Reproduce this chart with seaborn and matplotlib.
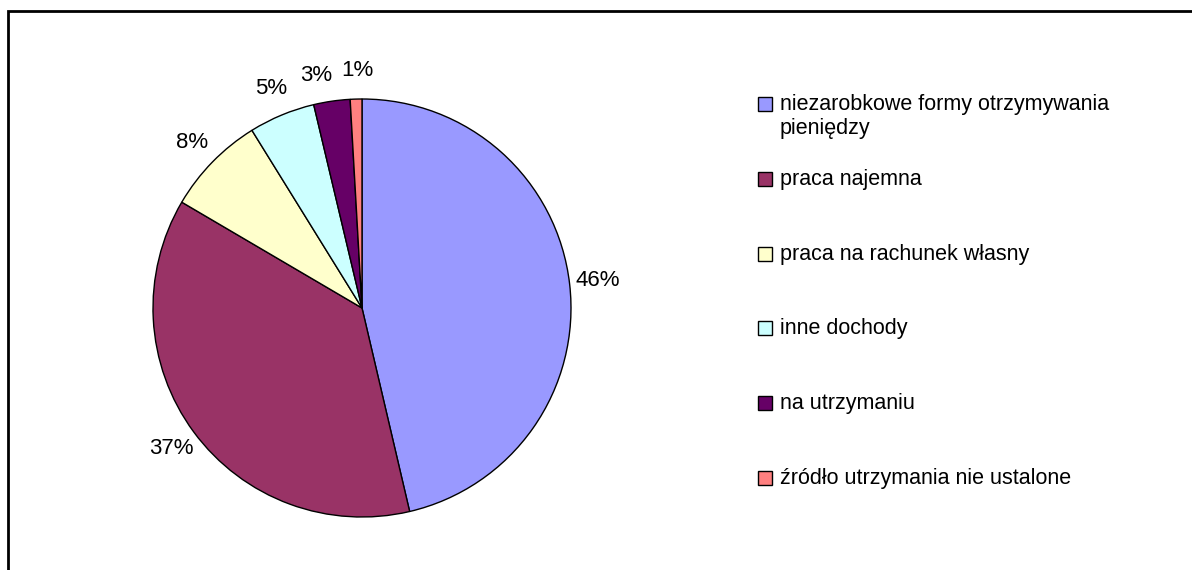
import matplotlib
matplotlib.use("Agg")
import matplotlib.pyplot as plt
from matplotlib.patches import Rectangle
import seaborn as sns

# Dane: źródła utrzymania (udział w %)
kategorie = [
    "niezarobkowe formy otrzymywania\npieniędzy",
    "praca najemna",
    "praca na rachunek własny",
    "inne dochody",
    "na utrzymaniu",
    "źródło utrzymania nie ustalone",
]
udzialy = [46.2, 37.0, 7.7, 5.1, 2.8, 0.9]
kolory = ["#9999FF", "#993366", "#FFFFCC", "#CCFFFF", "#660066", "#FF8080"]

sns.set_theme(style="white")
plt.rcParams["font.family"] = ["Liberation Sans", "DejaVu Sans"]
plt.rcParams["text.color"] = "black"

W, H = 1192, 570
fig = plt.figure(figsize=(W / 100, H / 100), dpi=100)
fig.patch.set_facecolor("white")


def px(x, y):
    # piksele (od lewego górnego rogu) -> współrzędne figury
    return x / W, 1 - y / H


# ramka wykresu
fig.patches.append(Rectangle(px(8, 600), 1300 / W, 589 / H, transform=fig.transFigure,
                             fill=False, edgecolor="black", linewidth=2))

# oś z kołem: środek (362, 308), promień 209 px
cx, cy, r = 362, 308, 209
s = 1.25 * r
ax = fig.add_axes([(cx - s) / W, 1 - (cy + s) / H, 2 * s / W, 2 * s / H])

paleta = sns.color_palette(kolory)
wedges, teksty, procenty = ax.pie(
    udzialy, colors=paleta, startangle=90, counterclock=False,
    autopct="%1.0f%%", pctdistance=1.135,
    wedgeprops=dict(edgecolor="black", linewidth=1),
    textprops=dict(fontsize=16, color="black"),
)
# etykiety 3% i 1% leżą blisko siebie - lekko je rozsuwamy
x3, y3 = procenty[4].get_position()
procenty[4].set_position((x3 - 0.055, y3 - 0.01))
x1, y1 = procenty[5].get_position()
procenty[5].set_position((x1 + 0.01, y1))

ax.set_xlim(-1.25, 1.25)
ax.set_ylim(-1.25, 1.25)
ax.set_aspect("equal")
ax.axis("off")

# legenda
lx, ly0, krok = 758, 104, 74.8
for i, (lab, kol) in enumerate(zip(kategorie, paleta)):
    yc = ly0 + i * krok
    fig.patches.append(Rectangle(px(lx, yc + 7), 14 / W, 14 / H, transform=fig.transFigure,
                                 facecolor=kol, edgecolor="black", linewidth=1))
    x, y = px(780, yc - 10)
    fig.text(x, y, lab, fontsize=15.5, va="top", ha="left", linespacing=1.2, color="black")

fig.savefig("out.png", dpi=100)
